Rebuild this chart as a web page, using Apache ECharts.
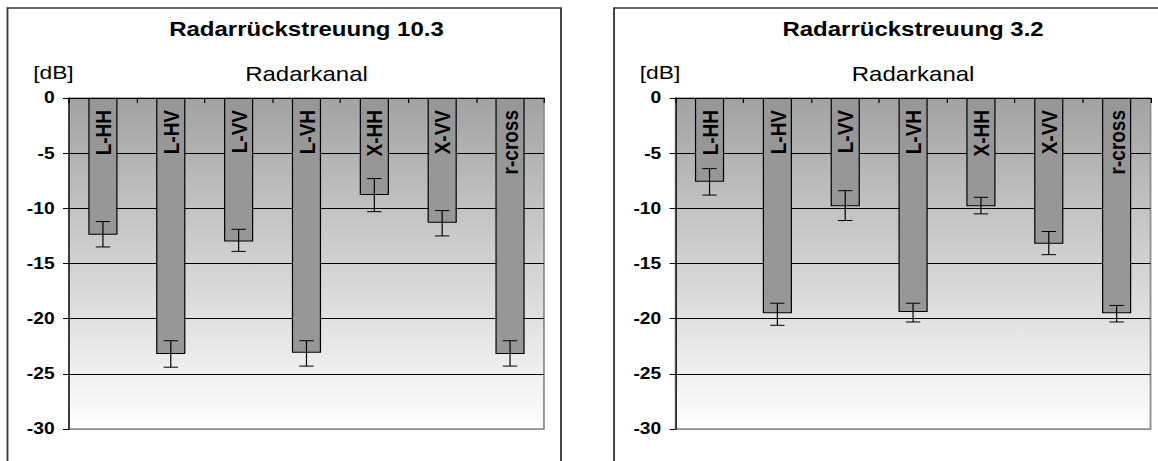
<!DOCTYPE html>
<html>
<head>
<meta charset="utf-8">
<title>Radarrückstreuung</title>
<script src="https://cdn.jsdelivr.net/npm/echarts@6/dist/echarts.min.js"></script>
<style>
  html, body { margin: 0; padding: 0; background: #fff; width: 1158px; height: 461px; overflow: hidden; }
  /* the chart is laid out on a 965px-wide canvas and widened to the full page */
  #chart { position: absolute; left: 0; top: 0; width: 965px; height: 461px;
           transform: scaleX(1.2); transform-origin: 0 0; }
</style>
</head>
<body>
<div id="chart"></div>
<script>
// Radar channels (category axis)
const channels = ['L-HH', 'L-HV', 'L-VV', 'L-VH', 'X-HH', 'X-VV', 'r-cross'];

// Panel titles
const titles = ['Radarrückstreuung 10.3', 'Radarrückstreuung 3.2'];

// Backscatter in dB, 10.3: mean and error-bar bounds
const mean103 = [-12.4, -23.2, -13.0, -23.1, -8.8, -11.3, -23.2];
const low103  = [-13.5, -24.4, -13.9, -24.3, -10.3, -12.5, -24.3];
const high103 = [-11.2, -22.0, -11.9, -22.0, -7.3, -10.2, -22.0];

// Backscatter in dB, 3.2: mean and error-bar bounds
const mean32 = [-7.6, -19.5, -9.8, -19.4, -9.8, -13.2, -19.5];
const low32  = [-8.8, -20.6, -11.1, -20.3, -10.5, -14.2, -20.3];
const high32 = [-6.4, -18.6, -8.4, -18.6, -9.0, -12.1, -18.8];

// Value axis range and step
const yMin = -30, yMax = 0, yStep = 5;

const FONT = "'Liberation Sans', Arial, Helvetica, sans-serif";

const panels = [
  { title: titles[0], mean: mean103, low: low103, high: high103 },
  { title: titles[1], mean: mean32,  low: low32,  high: high32 }
];

const gridLeft = [57.5, 563];
const plotWidth = 395.8;

const option = {
  backgroundColor: '#ffffff',
  animation: false,
  textStyle: { fontFamily: FONT, color: '#000' },
  title: panels.map((p, i) => ({
    text: p.title,
    left: gridLeft[i] + plotWidth / 2,
    top: 19,
    padding: 0,
    textAlign: 'center',
    textStyle: { fontFamily: FONT, fontSize: 20, fontWeight: 'bold', color: '#000' }
  })),
  graphic: [
    { type: 'rect', shape: { x: 6.25, y: 8, width: 461.25, height: 470 },
      style: { fill: 'none', stroke: '#333', lineWidth: 1.5 } },
    { type: 'rect', shape: { x: 511.7, y: 8, width: 461.25, height: 470 },
      style: { fill: 'none', stroke: '#333', lineWidth: 1.5 } }
  ],
  grid: panels.map((p, i) => ({
    left: gridLeft[i], top: 98, width: plotWidth, height: 331,
    show: true,
    borderColor: '#8e8e8e',
    borderWidth: 1.5,
    outerBoundsMode: 'none',
    backgroundColor: {
      type: 'linear', x: 0, y: 0, x2: 0, y2: 1,
      colorStops: [
        { offset: 0, color: '#a2a2a2' },
        { offset: 0.5, color: '#d2d2d2' },
        { offset: 1, color: '#fefefe' }
      ]
    }
  })),
  xAxis: panels.map((p, i) => ({
    gridIndex: i,
    type: 'category',
    data: channels,
    position: 'top',
    z: 10,
    name: 'Radarkanal',
    nameLocation: 'middle',
    nameGap: 24,
    nameMoveOverlap: false,
    nameTextStyle: { fontFamily: FONT, fontSize: 20, color: '#000', verticalAlign: 'middle' },
    axisLine: { show: true, onZero: false, lineStyle: { color: '#000', width: 1 } },
    axisTick: { show: true, inside: true, length: 5, lineStyle: { color: '#000', width: 1 } },
    axisLabel: {
      inside: true, rotate: -90, margin: 12, interval: 0,
      fontFamily: FONT, fontSize: 19, fontWeight: 'bold', color: '#000'
    },
    splitLine: { show: false }
  })),
  yAxis: panels.map((p, i) => ({
    gridIndex: i,
    type: 'value',
    min: yMin, max: yMax, interval: yStep,
    name: '[dB]',
    nameLocation: 'end',
    nameGap: 26,
    nameMoveOverlap: false,
    nameTextStyle: { fontFamily: FONT, fontSize: 19, color: '#000',
                     align: 'center', verticalAlign: 'middle', padding: [0, 26, 0, 0] },
    axisLine: { show: true, lineStyle: { color: '#000', width: 1 } },
    axisTick: { show: true, length: 5, lineStyle: { color: '#000', width: 1 } },
    axisLabel: { margin: 12, fontFamily: FONT, fontSize: 16, fontWeight: 'bold', color: '#000' },
    splitLine: { show: true, lineStyle: {
      color: ['#8e8e8e', '#000', '#000', '#000', '#000', '#000', '#000'], width: 1 } }
  })),
  series: []
};

panels.forEach((p, i) => {
  option.series.push({
    type: 'bar',
    xAxisIndex: i, yAxisIndex: i,
    data: p.mean,
    barWidth: '43%',
    itemStyle: { color: '#979797', borderColor: '#000', borderWidth: 1 },
    z: 2
  });
  option.series.push({
    type: 'custom',
    xAxisIndex: i, yAxisIndex: i,
    data: channels.map((c, k) => [k, p.low[k], p.high[k]]),
    encode: { x: 0, y: [1, 2] },
    z: 3,
    renderItem: function (params, api) {
      const k = api.value(0);
      const lo = api.coord([k, api.value(1)]);
      const hi = api.coord([k, api.value(2)]);
      const half = 6;
      const st = { stroke: '#000', lineWidth: 1, fill: 'none' };
      return {
        type: 'group',
        children: [
          { type: 'line', shape: { x1: lo[0], y1: lo[1], x2: hi[0], y2: hi[1] }, style: st },
          { type: 'line', shape: { x1: lo[0] - half, y1: lo[1], x2: lo[0] + half, y2: lo[1] }, style: st },
          { type: 'line', shape: { x1: hi[0] - half, y1: hi[1], x2: hi[0] + half, y2: hi[1] }, style: st }
        ]
      };
    }
  });
});

const chart = echarts.init(document.getElementById('chart'), null, { renderer: 'svg' });
chart.setOption(option);
</script>
</body>
</html>
